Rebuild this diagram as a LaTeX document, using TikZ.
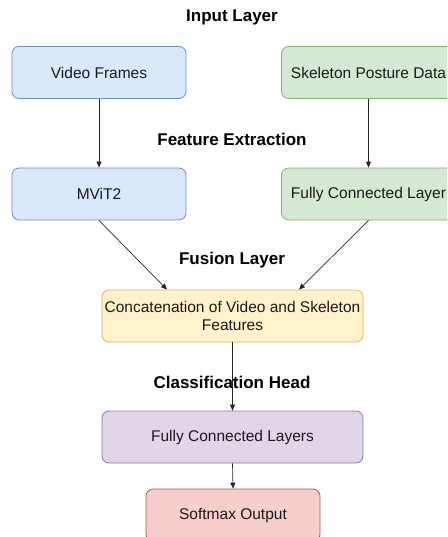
\documentclass[tikz,border=0pt]{standalone}
\usepackage{fontspec}
\setmainfont{Liberation Sans}
\usetikzlibrary{arrows.meta}
\definecolor{bfill}{HTML}{DAE8FC}\definecolor{bdraw}{HTML}{6C8EBF}
\definecolor{gfill}{HTML}{D5E8D4}\definecolor{gdraw}{HTML}{82B366}
\definecolor{yfill}{HTML}{FFF2CC}\definecolor{ydraw}{HTML}{D6B656}
\definecolor{pfill}{HTML}{E1D5E7}\definecolor{pdraw}{HTML}{9673A6}
\definecolor{rfill}{HTML}{F8CECC}\definecolor{rdraw}{HTML}{B85450}
\definecolor{txt}{HTML}{1A1A1A}
\tikzset{
  boxbase/.style={rounded corners=7pt, line width=0.8pt, minimum height=52pt, inner sep=0pt, align=center, font=\fontsize{15.5}{18}\selectfont, text=txt},
  bluebox/.style={boxbase, fill=bfill, draw=bdraw, minimum width=174pt},
  greenbox/.style={boxbase, fill=gfill, draw=gdraw, minimum width=174pt},
  yellowbox/.style={boxbase, fill=yfill, draw=ydraw, minimum width=261pt},
  purplebox/.style={boxbase, fill=pfill, draw=pdraw, minimum width=261pt},
  redbox/.style={boxbase, fill=rfill, draw=rdraw, minimum width=174pt},
  title/.style={font=\bfseries\fontsize{17}{20}\selectfont, text=black},
  conn/.style={draw=black!85, line width=0.7pt, -{Triangle[length=6pt,width=5pt]}}
}
\begin{document}
\begin{tikzpicture}[x=1pt,y=-1pt]
\useasboundingbox (0,0) rectangle (447,537);
\begin{scope}
\clip (0,0) rectangle (447,537);
\node[title] (t1) at (232,17) {Input Layer};
\node[title] (t2) at (232,139) {Feature Extraction};
\node[title] (t3) at (232,260) {Fusion Layer};
\node[title] (t4) at (232,382) {Classification Head};

\node[bluebox] (vf) at (99,72.5) {Video Frames};
\node[greenbox] (sk) at (368.5,72.5) {Skeleton Posture Data};
\node[bluebox] (mv) at (99,194) {MViT2};
\node[greenbox] (fc) at (368.5,194) {Fully Connected Layer};
\node[yellowbox] (cc) at (232.5,316) {Concatenation of Video and Skeleton\\Features};
\node[purplebox] (fcl) at (232.5,437) {Fully Connected Layers};
\node[redbox] (sm) at (233,515) {Softmax Output};

\draw[conn] (vf.south) -- (mv.north);
\draw[conn] (sk.south) -- (fc.north);
\draw[conn] (mv.south) -- (cc.north -| 167,0);
\draw[conn] (fc.south) -- (cc.north -| 299,0);
\draw[conn] (cc.south) -- (fcl.north);
\draw[conn] (fcl.south) -- (sm.north);
\end{scope}
\end{tikzpicture}
\end{document}
